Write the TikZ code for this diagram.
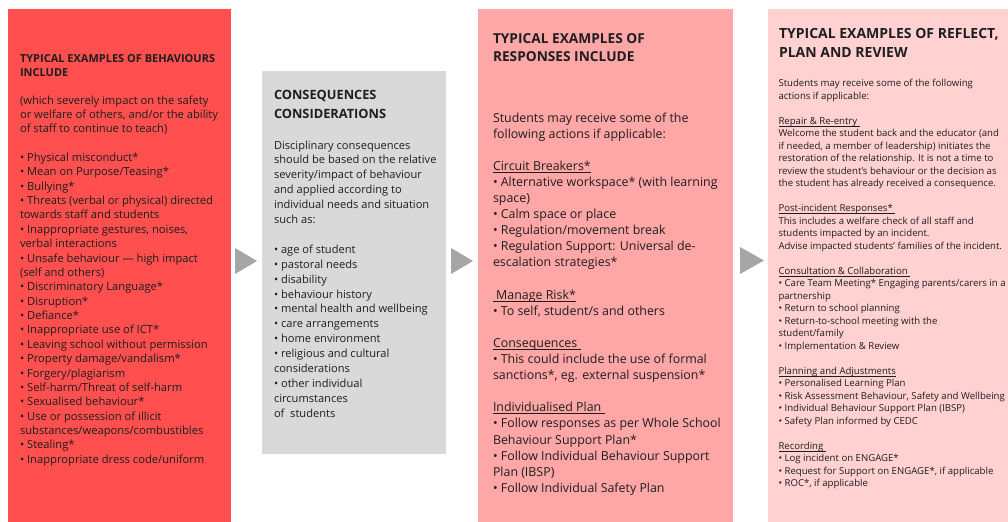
\documentclass[tikz,border=0pt]{standalone}
\usepackage{fontspec}
\setmainfont{Open Sans}
\definecolor{redbox}{HTML}{FF4F4F}
\definecolor{greybox}{HTML}{D9D9D9}
\definecolor{pinkbox}{HTML}{FFA6A6}
\definecolor{lightbox}{HTML}{FFD1D1}
\definecolor{arrowc}{HTML}{A6A6A6}
\definecolor{ink}{HTML}{1E1E1E}
\newsavebox\ulbox
\newcommand\myul[1]{\sbox\ulbox{#1}\rlap{\rule[-2.2bp]{\wd\ulbox}{0.6bp}}\usebox\ulbox}
\tikzset{
  panel/.style={anchor=north west, inner sep=0, outer sep=0, draw=none},
  txt/.style={anchor=north west, inner sep=0, outer sep=0, align=left, text=ink},
  chevron/.style={fill=arrowc, draw=none},
}
\begin{document}
\begin{tikzpicture}[x=1bp,y=-1bp]
\useasboundingbox (0,0) rectangle (1008,522);
\fill[white] (0,0) rectangle (1008,522);
% panels
\node[panel, fill=redbox, minimum width=223bp, minimum height=513bp] (b1) at (8,9) {};
\node[panel, fill=greybox, minimum width=184bp, minimum height=383bp] (b2) at (262,71) {};
\node[panel, fill=pinkbox, minimum width=255bp, minimum height=513bp] (b3) at (478,9) {};
\node[panel, fill=lightbox, minimum width=240bp, minimum height=513bp] (b4) at (768,9) {};
% arrows
\fill[chevron] (235,248) -- (257,261) -- (235,274) -- cycle;
\fill[chevron] (451,248) -- (473,261) -- (451,274) -- cycle;
\fill[chevron] (740,247) -- (764,260.5) -- (740,274) -- cycle;
% box 1
\node[txt, font={\fontsize{11bp}{14bp}\selectfont\bfseries}] (h1) at (20,53.2)
{\strut TYPICAL EXAMPLES OF BEHAVIOURS\\ INCLUDE};
\node[txt, font={\fontsize{11.2bp}{14.37bp}\selectfont}] (t1) at (20,93.94)
{\strut(which severely impact on the safety\\
or welfare of others, and/or the ability\\
of staff to continue to teach)\\[14.37bp]
• Physical misconduct*\\
• Mean on Purpose/Teasing*\\
• Bullying*\\
• Threats (verbal or physical) directed\\
towards staff and students\\
• Inappropriate gestures, noises,\\
verbal interactions\\
• Unsafe behaviour — high impact\\
(self and others)\\
• Discriminatory Language*\\
• Disruption*\\
• Defiance*\\
• Inappropriate use of ICT*\\
• Leaving school without permission\\
• Property damage/vandalism*\\
• Forgery/plagiarism\\
• Self-harm/Threat of self-harm\\
• Sexualised behaviour*\\
• Use or possession of illicit\\
substances/weapons/combustibles\\
• Stealing*\\
• Inappropriate dress code/uniform};
% box 2
\node[txt, font={\fontsize{12.8bp}{18.3bp}\selectfont\bfseries}] (h2) at (274,87.19)
{\strut CONSEQUENCES\\ CONSIDERATIONS};
\node[txt, font={\fontsize{11.1bp}{14.9bp}\selectfont}] (t2) at (274,138.57)
{\strut Disciplinary consequences\\
should be based on the relative\\
severity/impact of behaviour\\
and applied according to\\
individual needs and situation\\
such as:\\[14.9bp]
• age of student\\
• pastoral needs\\
• disability\\
• behaviour history\\
• mental health and wellbeing\\
• care arrangements\\
• home environment\\
• religious and cultural\\
considerations\\
• other individual\\
circumstances\\
of\ \ students};
% box 3
\node[txt, font={\fontsize{13.7bp}{18.4bp}\selectfont\bfseries}] (h3) at (493,30.42)
{\strut TYPICAL EXAMPLES OF\\ RESPONSES INCLUDE};
\node[txt, font={\fontsize{12.4bp}{16.1bp}\selectfont}] (t3) at (493,110.73)
{\strut Students may receive some of the\\
following actions if applicable:\\[16.1bp]
\myul{Circuit Breakers*}\\
• Alternative workspace* (with learning\\
space)\\
• Calm space or place\\
• Regulation/movement break\\
• Regulation Support: Universal de-\\
escalation strategies*\\[16.1bp]
\myul{\ Manage Risk*}\\
• To self, student/s and others\\[16.1bp]
\myul{Consequences\ }\\
• This could include the use of formal\\
sanctions*, eg. external suspension*\\[16.1bp]
\myul{Individualised Plan\ }\\
• Follow responses as per Whole School\\
Behaviour Support Plan*\\
• Follow Individual Behaviour Support\\
Plan (IBSP)\\
• Follow Individual Safety Plan};
% box 4
\node[txt, font={\fontsize{14bp}{18.7bp}\selectfont\bfseries}] (h4) at (779,25.91)
{\strut TYPICAL EXAMPLES OF REFLECT,\\ PLAN AND REVIEW};
\node[txt, font={\fontsize{9.6bp}{12.5bp}\selectfont}] (t4) at (778.5,78.05)
{\strut Students may receive some of the following\\
actions if applicable:\\[12.5bp]
\myul{Repair \& Re-entry\ }\\
Welcome the student back and the educator (and\\
if needed, a member of leadership) initiates the\\
restoration of the relationship. It is not a time to\\
review the student’s behaviour or the decision as\\
the student has already received a consequence.\\[12.5bp]
\myul{Post-incident Responses*\ }\\
This includes a welfare check of all staff and\\
students impacted by an incident.\\
Advise impacted students’ families of the incident.\\[12.5bp]
\myul{Consultation \& Collaboration\ }\\
• Care Team Meeting* Engaging parents/carers in a\\
partnership\\
• Return to school planning\\
• Return-to-school meeting with the\\
student/family\\
• Implementation \& Review\\[12.5bp]
\myul{Planning and Adjustments}\\
• Personalised Learning Plan\\
• Risk Assessment Behaviour, Safety and Wellbeing\\
• Individual Behaviour Support Plan (IBSP)\\
• Safety Plan informed by CEDC\\[12.5bp]
\myul{Recording\ }\\
• Log incident on ENGAGE*\\
• Request for Support on ENGAGE*, if applicable\\
• ROC*, if applicable};
\end{tikzpicture}
\end{document}
